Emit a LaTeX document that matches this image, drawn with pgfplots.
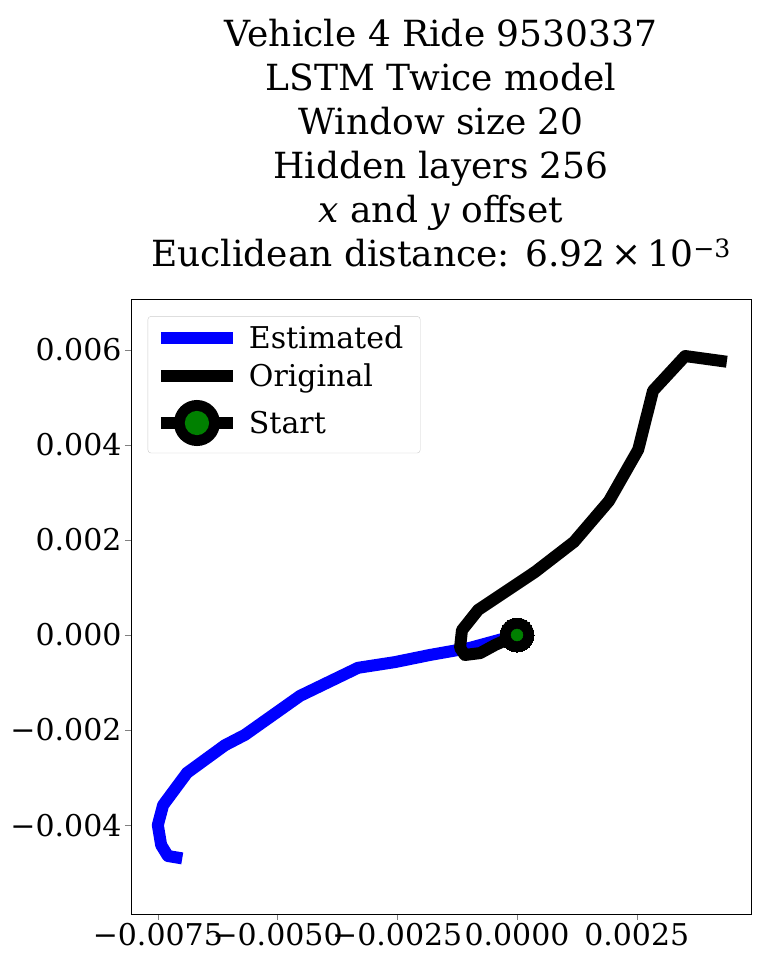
\documentclass[border=0pt]{standalone}
\usepackage{pgfplots}
\pgfplotsset{compat=1.18}
\usepackage{fontspec}
\setmainfont{DejaVu Serif}
\definecolor{mplgreen}{RGB}{0,128,0}
\begin{document}
\begin{tikzpicture}
\useasboundingbox (0,0) rectangle (759pt,962pt);
\begin{axis}[at={(131pt,48pt)},anchor=south west,scale only axis,
  width=620pt,height=615pt,
  xmin=-0.00806,xmax=0.004885,ymin=-0.00587,ymax=0.00707,
  xtick={-0.0075,-0.005,-0.0025,0,0.0025},
  xticklabels={−0.0075,−0.0050,−0.0025,0.0000,0.0025},
  ytick={-0.004,-0.002,0,0.002,0.004,0.006},
  yticklabels={−0.004,−0.002,0.000,0.002,0.004,0.006},
  scaled ticks=false, xtick pos=bottom, ytick pos=left,
  tick label style={font=\fontsize{30}{36}\selectfont},
  tick align=outside, major tick length=6pt,
  title style={font=\fontsize{36}{44}\selectfont,align=center,yshift=22pt},
  title={Vehicle 4 Ride 9530337\\LSTM Twice model\\Window size 20\\Hidden layers 256\\\textit{x} and \textit{y} offset\\Euclidean distance: 6.92\,×\,10\textsuperscript{−3}},
  legend style={at={(0.027,0.972)},anchor=north west,font=\fontsize{30}{36}\selectfont,
    draw=black!20,rounded corners=3pt,row sep=10pt,inner sep=7pt,
    nodes={inner xsep=10pt}},
  legend cell align=left,
  legend image code/.code={\draw[line width=12pt] (0pt,0pt) -- (72pt,0pt);},
]
\addplot[blue,line width=12pt,line join=round] coordinates {
(0,0) (-0.00098,-0.00027) (-0.00182,-0.00042) (-0.00255,-0.00057) (-0.00332,-0.00069)
(-0.00453,-0.00128) (-0.00568,-0.0021) (-0.0061,-0.00232) (-0.00689,-0.0029)
(-0.00739,-0.00358) (-0.0075,-0.004) (-0.00743,-0.00442) (-0.00729,-0.00465) (-0.00699,-0.0047)};
\addlegendentry{Estimated}
\addplot[black,line width=12pt,line join=round] coordinates {
(0,0) (-0.00046,-0.00021) (-0.00077,-0.00038) (-0.00109,-0.00042) (-0.00119,-0.00027)
(-0.00115,0.0001) (-0.00081,0.00053) (0.00038,0.00133) (0.00119,0.00196) (0.00192,0.00282)
(0.00253,0.0039) (0.00284,0.00514) (0.00351,0.00587) (0.00438,0.00575)};
\addlegendentry{Original}
\addplot[black,line width=12pt,mark=*,mark size=17pt,mark options={fill=black,line width=0pt},
  legend image code/.code={\draw[line width=12pt] (0pt,0pt) -- (72pt,0pt);
  \fill[black] (36pt,0pt) circle (17pt); \fill[mplgreen] (36pt,0pt) circle (6pt);}]
  coordinates {(0,0)};
\addlegendentry{Start}
\addplot[only marks,mark=*,mark size=6pt,mplgreen,mark options={fill=mplgreen,draw=mplgreen},forget plot] coordinates {(0,0)};
\end{axis}
\end{tikzpicture}
\end{document}
